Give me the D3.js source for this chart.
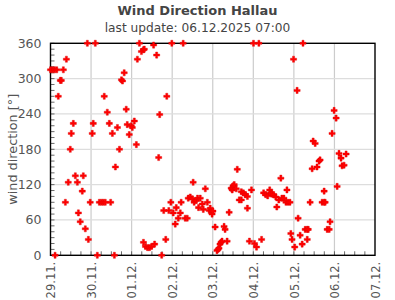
<!DOCTYPE html>
<html>
<head>
<meta charset="utf-8">
<script src="https://cdn.jsdelivr.net/npm/d3@7"></script>
<style>
  html, body { margin: 0; padding: 0; background: #fff; }
  svg { display: block; font-family: "DejaVu Sans", sans-serif; }
</style>
</head>
<body>
<svg id="chart" width="395" height="300"></svg>
<script>
// ---- data (hours since 29.11.2025 00:00, wind direction in degrees) ----
const title = "Wind Direction Hallau";
const subtitle = "last update: 06.12.2025 07:00";
const yLabel = "wind direction [°]";
const yTicks = [0, 60, 120, 180, 240, 300, 360];
const hours = [
  0.0, 1.2, 2.4, 2.7, 3.7, 4.6, 5.8, 6.4, 7.6, 8.8, 9.4, 10.5, 11.7, 12.3, 13.5, 14.7,
  15.9, 16.5, 17.6, 18.8, 19.4, 20.6, 21.8, 22.4, 23.5, 24.7, 25.3, 26.5, 27.7, 28.9,
  30.1, 31.2, 31.8, 32.4, 33.6, 34.8, 35.6, 36.6, 37.8, 38.4, 39.6, 40.8, 42.0, 42.6,
  43.6, 44.8, 45.4, 46.6, 47.8, 48.4, 49.6, 50.8, 51.4, 52.6, 53.8, 55.0, 55.0, 55.5,
  56.2, 57.4, 58.6, 59.8, 61.0, 61.6, 62.8, 64.0, 64.6, 65.8, 67.0, 68.2, 68.8, 70.0,
  71.2, 71.8, 72.6, 73.8, 74.4, 75.6, 76.8, 77.3, 78.5, 79.7, 80.9, 81.5, 82.7, 83.9,
  84.4, 85.0, 86.2, 87.0, 87.6, 88.6, 89.8, 90.4, 91.6, 92.8, 93.9, 94.5, 95.1, 95.6,
  96.1, 97.4, 98.5, 99.1, 99.7, 100.3, 100.9, 101.5, 102.7, 103.3, 104.5, 105.7, 106.9,
  107.5, 107.5, 108.1, 108.7, 109.9, 110.5, 111.7, 112.9, 112.9, 114.1, 115.3, 116.5,
  116.5, 117.7, 118.9, 120.1, 120.7, 121.9, 123.3, 124.9, 126.1, 127.3, 128.5, 129.7,
  130.3, 130.9, 132.1, 133.3, 133.9, 135.1, 136.3, 136.9, 138.1, 139.3, 139.9, 140.5,
  141.7, 142.2, 142.9, 143.8, 144.5, 145.9, 146.5, 147.7, 148.9, 149.4, 150.7, 151.9,
  151.9, 152.5, 153.6, 154.8, 155.4, 156.6, 157.7, 158.9, 159.5, 160.7, 161.9, 161.9,
  162.5, 163.7, 164.9, 165.4, 166.6, 167.8, 169.0, 169.6, 170.7, 171.9, 172.5, 173.7,
  174.9
];
const directions = [
  315, 315, 315, 0, 315, 270, 297, 297, 315, 90, 333, 124, 180, 207, 224, 135,
  124, 72, 57, 109, 135, 45, 360, 27, 90, 207, 224, 360, 0, 90,
  90, 90, 270, 90, 243, 224, 90, 207, 0, 150, 217, 180, 298, 296,
  310, 248, 222, 205, 220, 217, 228, 188, 333, 360, 346, 349, 22, 350,
  15, 13, 13, 15, 357, 19, 340, 166, 239, 0, 76, 27, 270, 76,
  90, 360, 72, 53, 81, 63, 72, 90, 360, 63, 63, 97, 99, 96,
  124, 90, 93, 97, 81, 97, 87, 78, 113, 90, 76, 80, 75, 70,
  75, 48, 8, 10, 12, 19, 22, 24, 49, 44, 24, 73, 114,
  111, 114, 118, 120, 113, 146, 94, 94, 108, 106, 103, 100,
  80, 24, 111, 360, 20, 14, 360, 27, 106, 103, 101, 111,
  106, 104, 103, 99, 82, 94, 131, 97, 97, 90, 111, 90,
  90, 37, 27, 333, 14, 280, 63, 34, 19, 360, 44, 44,
  27, 44, 90, 147, 194, 190, 150, 160, 162, 90, 90, 109,
  90, 44, 44, 57, 207, 246, 233, 117, 173, 165, 152, 153,
  172
];

// ---- layout ----
const svg = d3.select("#chart");
const W = 395, H = 300;
const pLeft = 50.5, pRight = 375, pTop = 43.3, pBottom = 255.3;
const start = new Date(2025, 10, 29, 0, 0);
const end = new Date(2025, 11, 7, 0, 0);

const x = d3.scaleTime().domain([start, end]).range([pLeft, pRight]);
const y = d3.scaleLinear().domain([0, 360]).range([pBottom, pTop]);

const points = hours.map((h, i) => ({ t: new Date(start.getTime() + h * 3600e3), v: directions[i] }));

// grid
const g = svg.append("g");
g.selectAll("line.vg").data(x.ticks(d3.timeDay.every(1)).slice(1, -1)).join("line")
  .attr("x1", d => x(d)).attr("x2", d => x(d)).attr("y1", pTop).attr("y2", pBottom)
  .attr("stroke", "#cccccc").attr("stroke-width", 1.2);
g.selectAll("line.hg").data(yTicks.slice(1, -1)).join("line")
  .attr("x1", pLeft).attr("x2", pRight).attr("y1", d => y(d)).attr("y2", d => y(d))
  .attr("stroke", "#dddddd").attr("stroke-width", 1.2);

// minor ticks
const yMinor = d3.range(0, 361, 10);
g.selectAll("line.ym").data(yMinor).join("line")
  .attr("x1", pLeft).attr("x2", pLeft + 4).attr("y1", d => y(d)).attr("y2", d => y(d))
  .attr("stroke", "#444").attr("stroke-width", 0.8);
const xMinor = d3.timeHour.every(6).range(start, end);
g.selectAll("line.xm").data(xMinor).join("line")
  .attr("x1", d => x(d)).attr("x2", d => x(d)).attr("y1", pBottom).attr("y2", pBottom - 4)
  .attr("stroke", "#444").attr("stroke-width", 0.8);

// y axis labels
const yAxis = d3.axisLeft(y).tickValues(yTicks).tickSize(0).tickPadding(9);
svg.append("g").attr("transform", `translate(${pLeft},0)`).call(yAxis)
  .call(a => a.select(".domain").remove())
  .call(a => a.selectAll("text").attr("fill", "#555").style("font-size", "12.5px")
    .style("font-family", "DejaVu Sans, sans-serif"));

// x axis labels
const xAxis = d3.axisBottom(x).ticks(d3.timeDay.every(1)).tickFormat(d3.timeFormat("%d.%m.")).tickSize(0);
const xg = svg.append("g").attr("transform", `translate(0,${pBottom})`).call(xAxis);
xg.select(".domain").remove();
xg.selectAll("text")
  .attr("fill", "#555").style("font-size", "11.5px").style("font-family", "DejaVu Sans, sans-serif")
  .attr("text-anchor", "end").attr("transform", "rotate(-90)")
  .attr("x", -6.5).attr("y", 0).attr("dy", "0.36em");

// frame
svg.append("rect").attr("x", pLeft).attr("y", pTop).attr("width", pRight - pLeft).attr("height", pBottom - pTop)
  .attr("fill", "none").attr("stroke", "#000").attr("stroke-width", 1.4);

// points
const sym = d3.symbol().type(d3.symbolCross).size(21);
svg.append("g").selectAll("path").data(points).join("path")
  .attr("transform", d => `translate(${x(d.t)},${y(d.v)})`)
  .attr("d", sym).attr("fill", "#ff0000").attr("stroke", "#e00000").attr("stroke-width", 0.4);

// titles
svg.append("text").attr("x", W / 2).attr("y", 15).attr("text-anchor", "middle")
  .attr("fill", "#444").style("font-weight", "bold").style("font-size", "13px").text(title);
svg.append("text").attr("x", W / 2).attr("y", 31.5).attr("text-anchor", "middle")
  .attr("fill", "#444").style("font-size", "12.2px").text(subtitle);
svg.append("text").attr("transform", `translate(12.5,${(pTop + pBottom) / 2}) rotate(-90)`)
  .attr("text-anchor", "middle").attr("dy", "0.36em")
  .attr("fill", "#555").style("font-size", "12.8px").text(yLabel);
</script>
</body>
</html>
